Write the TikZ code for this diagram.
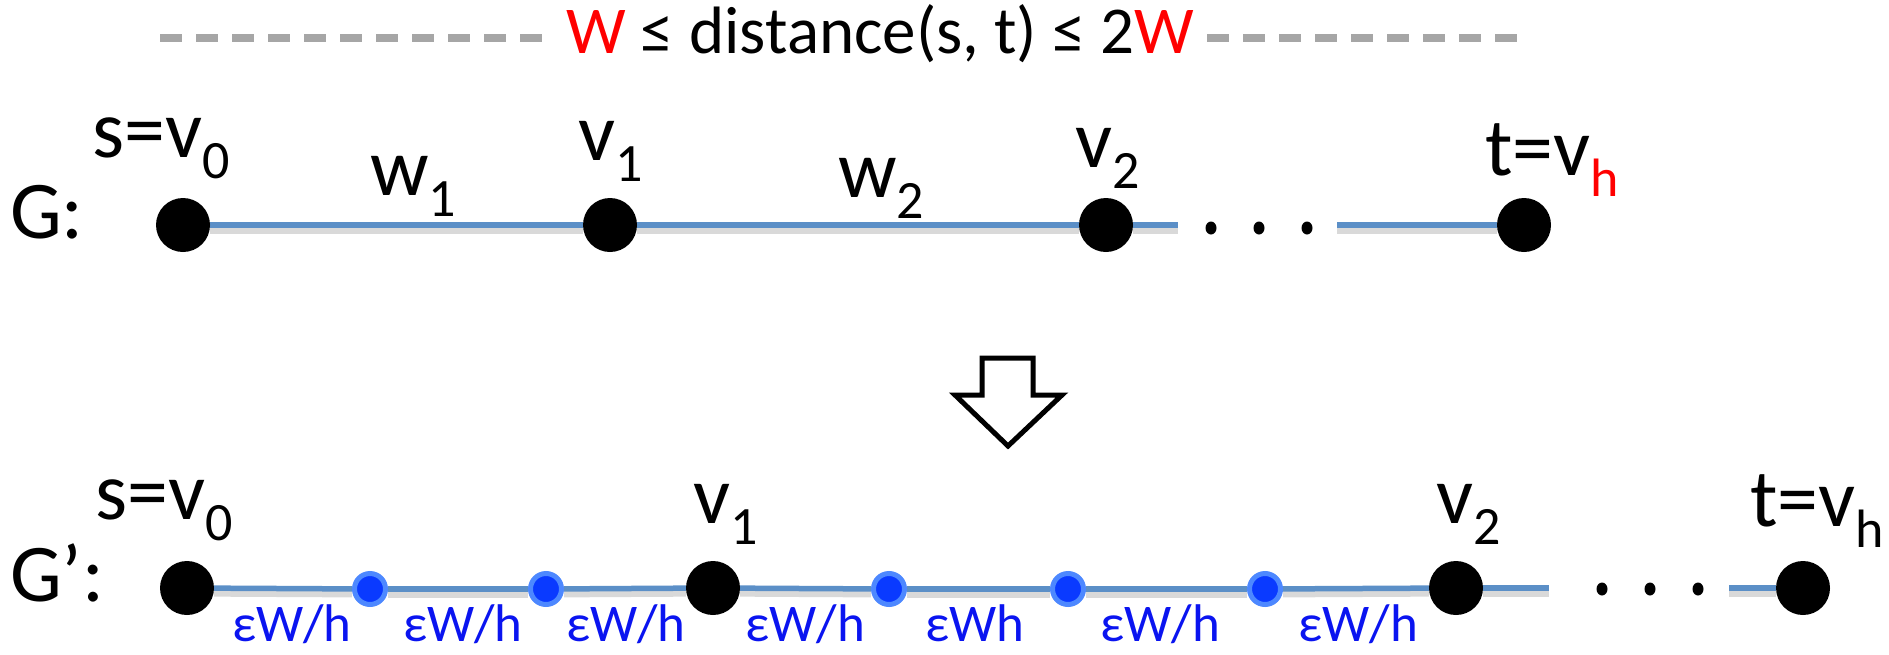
\documentclass[tikz,border=0pt]{standalone}
\usepackage{fontspec}
\setmainfont{Carlito}
\usetikzlibrary{shapes.geometric,backgrounds}
\definecolor{edgeblue}{RGB}{91,143,199}
\definecolor{dashgray}{RGB}{166,166,166}
\definecolor{dotfill}{RGB}{10,58,255}
\definecolor{dotring}{RGB}{77,136,255}
\definecolor{lblblue}{RGB}{10,20,240}
\newcommand{\lowsub}[1]{\raisebox{-21pt}{\fontsize{54}{60}\selectfont #1}}
\tikzset{
  bignode/.style={circle, fill=black, minimum size=54pt, inner sep=0pt},
  smallnode/.style={circle, fill=dotfill, draw=dotring, line width=5pt, minimum size=31pt, inner sep=0pt},
  vlabel/.style={anchor=base west, inner sep=0pt, font=\fontsize{82}{88}\selectfont},
  elabel/.style={anchor=base, inner sep=0pt, text=lblblue, font=\fontsize{53}{58}\selectfont},
  edgeline/.style={draw=edgeblue, line width=5.5pt,
    preaction={draw=black!50, opacity=0.3, line width=7pt, transform canvas={yshift=-5pt}}},
  topdash/.style={draw=dashgray, line width=8pt, dash pattern=on 22pt off 14pt},
  ellipsisdot/.style={ellipse, fill=black, minimum width=11pt, minimum height=13pt, inner sep=0pt}
}
\begin{document}
\begin{tikzpicture}[x=1pt,y=-1pt]
\useasboundingbox (0,0) rectangle (1889,654);
% title
\node[anchor=base west, inner sep=0pt, font=\fontsize{67}{72}\selectfont] (title) at (566,53)
  {{\color{red}W} ≤ distance(s, t) ≤ 2{\color{red}W}};
\coordinate (dla) at (160,38); \coordinate (dlb) at (552,38);
\coordinate (dra) at (1207,38); \coordinate (drb) at (1524,38);
\draw[topdash] (dla) -- (dlb);
\draw[topdash] (dra) -- (drb);

% ---- row G
\node[vlabel] (glab) at (10,238) {G:};
\node[bignode] (s) at (183,225) {};
\node[bignode] (v1) at (610,225) {};
\node[bignode] (v2) at (1106,225) {};
\node[bignode] (t) at (1524,225) {};
\coordinate (ga) at (1178,225);
\coordinate (gb) at (1337,225);
\node[ellipsisdot] (gd1) at (1211,228) {};
\node[ellipsisdot] (gd2) at (1259,228) {};
\node[ellipsisdot] (gd3) at (1307,228) {};
\node[vlabel] (sl) at (92,157) {s=v\lowsub{0}};
\node[vlabel] (v1l) at (578,160) {v\lowsub{1}};
\node[vlabel] (v2l) at (1075,167) {v\lowsub{2}};
\node[vlabel] (tl) at (1485,175) {t=v\lowsub{\color{red}h}};
\node[vlabel] (w1) at (370,195) {w\lowsub{1}};
\node[vlabel] (w2) at (838,197) {w\lowsub{2}};
\begin{scope}[on background layer]
\draw[edgeline] (s) -- (v1);
\draw[edgeline] (v1) -- (v2);
\draw[edgeline] (v2) -- (ga);
\draw[edgeline] (gb) -- (t);
\end{scope}

% ---- arrow
\draw[line width=5pt, fill=white, line join=miter]
  (982,358) -- (1033,358) -- (1033,395) -- (1062,395) -- (1008,446)
  -- (955,395) -- (982,395) -- cycle;

% ---- row G'
\node[vlabel] (gplab) at (10,601) {G’:};
\node[bignode] (ps) at (187,588) {};
\node[smallnode] (b1) at (370,589) {};
\node[smallnode] (b2) at (546,589) {};
\node[bignode] (pv1) at (713,588) {};
\node[smallnode] (b3) at (889,589) {};
\node[smallnode] (b4) at (1068,589) {};
\node[smallnode] (b5) at (1265,589) {};
\node[bignode] (pv2) at (1456,588) {};
\node[bignode] (pt) at (1803,588) {};
\coordinate (pa) at (1549,588);
\coordinate (pb) at (1729,588);
\node[ellipsisdot] (pd1) at (1602,589) {};
\node[ellipsisdot] (pd2) at (1650,589) {};
\node[ellipsisdot] (pd3) at (1698,589) {};
\node[vlabel] (psl) at (95,519) {s=v\lowsub{0}};
\node[vlabel] (pv1l) at (693,523) {v\lowsub{1}};
\node[vlabel] (pv2l) at (1436,523) {v\lowsub{2}};
\node[vlabel] (ptl) at (1750,526) {t=v\lowsub{h}};
\begin{scope}[on background layer]
\draw[edgeline] (ps) -- (b1);
\draw[edgeline] (b1) -- (b2);
\draw[edgeline] (b2) -- (pv1);
\draw[edgeline] (pv1) -- (b3);
\draw[edgeline] (b3) -- (b4);
\draw[edgeline] (b4) -- (b5);
\draw[edgeline] (b5) -- (pv2);
\draw[edgeline] (pv2) -- (pa);
\draw[edgeline] (pb) -- (pt);
\end{scope}
\node[elabel] (e1) at (292,641) {εW/h};
\node[elabel] (e2) at (463,641) {εW/h};
\node[elabel] (e3) at (626,641) {εW/h};
\node[elabel] (e4) at (805,641) {εW/h};
\node[elabel] (e5) at (975,641) {εWh};
\node[elabel] (e6) at (1160,641) {εW/h};
\node[elabel] (e7) at (1358,641) {εW/h};
\end{tikzpicture}
\end{document}
